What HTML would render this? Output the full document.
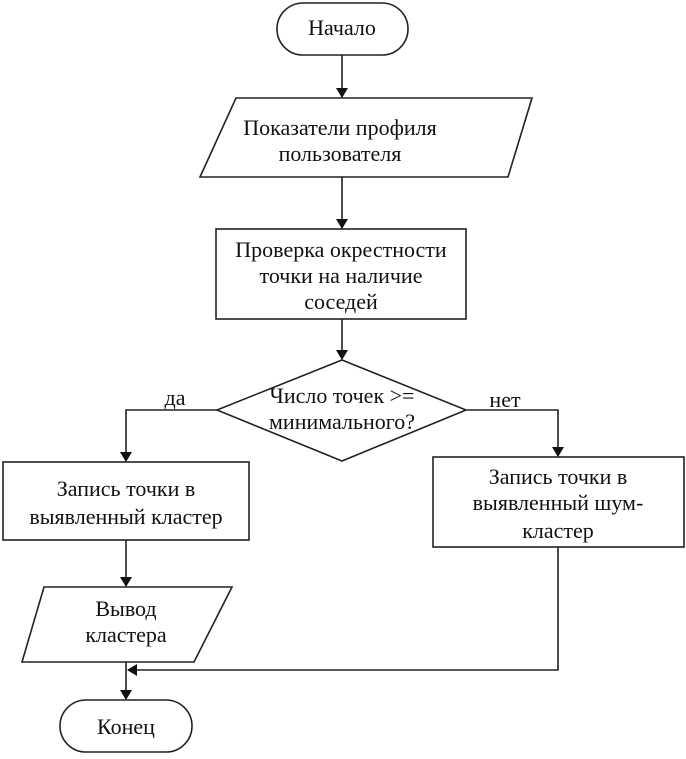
<!DOCTYPE html>
<html><head><meta charset="utf-8"><style>
html,body{margin:0;padding:0;background:#fff;}
svg text{font-family:"Liberation Serif",serif;font-size:22px;fill:#111;text-anchor:middle;}
</style></head><body>
<svg width="686" height="754" viewBox="0 0 686 754" xmlns="http://www.w3.org/2000/svg">
<defs><marker id="a" markerWidth="10" markerHeight="12" refX="9" refY="6" orient="auto" markerUnits="userSpaceOnUse"><path d="M0,0 L10,6 L0,12 z" fill="#111"/></marker></defs>
<g stroke="#222" stroke-width="1.6" fill="#fff">
<rect x="277" y="3" width="131" height="52" rx="26"/>
<polygon points="236,98 532,98 508,177 200,177"/>
<rect x="216" y="229" width="250" height="90"/>
<polygon points="342,360 466,410 342,461 217,410"/>
<rect x="3" y="462" width="246" height="78"/>
<rect x="433" y="457" width="251" height="90"/>
<polygon points="44,587 232,587 194,662 22,662"/>
<rect x="60" y="700" width="132" height="52" rx="26"/>
</g>
<g stroke="#222" stroke-width="1.6" fill="none">
<line x1="342" y1="55" x2="342" y2="97" marker-end="url(#a)"/>
<line x1="342" y1="177" x2="342" y2="228" marker-end="url(#a)"/>
<line x1="342" y1="319" x2="342" y2="359" marker-end="url(#a)"/>
<polyline points="217,410 126,410 126,461" marker-end="url(#a)"/>
<polyline points="466,410 558,410 558,456" marker-end="url(#a)"/>
<line x1="126" y1="540" x2="126" y2="586" marker-end="url(#a)"/>
<polyline points="558,547 558,670 128,670" marker-end="url(#a)"/>
<line x1="126" y1="662" x2="126" y2="699" marker-end="url(#a)"/>
</g>
<text x="342" y="35">Начало</text>
<text x="340" y="135">Показатели профиля</text>
<text x="340" y="161">пользователя</text>
<text x="341" y="257">Проверка окрестности</text>
<text x="341" y="283">точки на наличие</text>
<text x="341" y="309">соседей</text>
<text x="342" y="403">Число точек &gt;=</text>
<text x="342" y="429">минимального?</text>
<text x="175" y="405">да</text>
<text x="505" y="407">нет</text>
<text x="126" y="496">Запись точки в</text>
<text x="126" y="524">выявленный кластер</text>
<text x="558" y="484">Запись точки в</text>
<text x="558" y="510">выявленный шум-</text>
<text x="558" y="538">кластер</text>
<text x="126" y="616">Вывод</text>
<text x="126" y="642">кластера</text>
<text x="126" y="734">Конец</text>
</svg>
</body></html>
